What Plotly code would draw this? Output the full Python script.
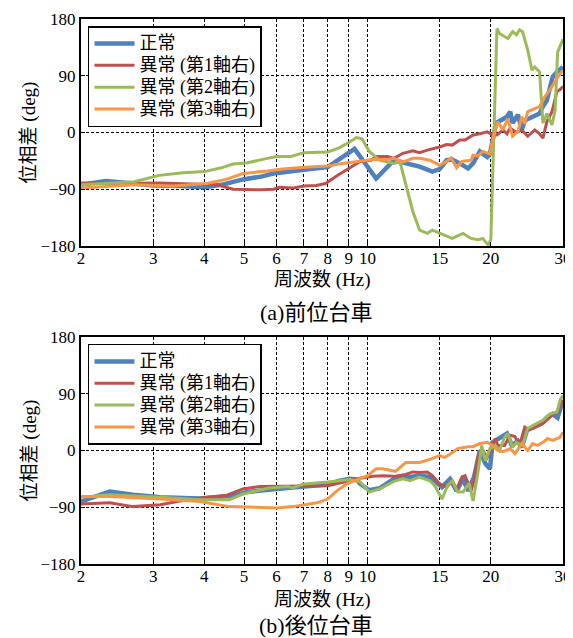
import plotly.graph_objects as go
import math

# ---------------- data: (a) 前位台車 ----------------
a_normal_f = [2, 2.3, 2.6, 3.0, 3.5, 4.0, 4.4, 5.0, 5.5, 5.9, 7.0, 8.0, 9.3, 10.5, 11.6, 12.4, 13.4, 14.4, 15.0, 15.6, 16.1, 16.8, 17.6, 18.1, 18.8, 19.2, 19.6, 19.9, 20.6, 21.9, 22.3, 22.6, 23.3, 23.8, 24.2, 25.3, 26.3, 26.8, 27.4, 28.3, 29.0, 30]
a_normal_v = [-83, -77, -80, -84, -85, -87, -83, -74, -70, -65, -59, -55, -26, -73, -44, -49, -54, -62, -58, -44, -43, -49, -57, -49, -30, -35, -39, -34, 15, 25, 33, 15, 28, 4, 19, 25, 30, 41, 51, 88, 96, 104]

a_ab1_f = [2, 2.5, 3.1, 3.5, 3.9, 4.3, 4.7, 5.5, 5.9, 6.1, 6.6, 7.0, 7.5, 7.9, 8.5, 9.0, 9.6, 10.2, 10.5, 11.2, 11.6, 12.2, 12.9, 13.4, 14.0, 15.0, 15.6, 16.1, 16.8, 17.3, 18.1, 18.8, 19.6, 20.1, 20.7, 21.4, 21.9, 22.3, 23.1, 23.8, 24.6, 25.6, 26.3, 26.8, 27.4, 28.2, 29.0, 29.5, 30]
a_ab1_v = [-80, -81, -80, -81, -83, -83, -90, -91, -90, -87, -88, -85, -84, -81, -67, -57, -46, -44, -38, -38, -41, -33, -29, -32, -28, -23, -19, -20, -12, -12, -4, -2, 1, -3, -4, 4, -2, 7, 0, 4, -6, 4, -2, -9, 17, 33, 65, 68, 73]

a_ab2_f = [2, 2.7, 3.1, 3.55, 4.0, 4.4, 4.7, 5.1, 5.7, 6.0, 6.5, 7.0, 8.0, 8.55, 9.05, 9.4, 9.7, 10.1, 10.7, 11.6, 12.0, 12.4, 12.9, 13.4, 14.0, 14.4, 15.6, 16.1, 17.1, 17.9, 18.6, 19.1, 19.7, 20.0, 20.7, 21.0, 22.0, 22.6, 23.1, 23.5, 23.9, 24.6, 25.2, 25.6, 26.3, 26.8, 27.4, 28.2, 28.7, 29.1, 30]
a_ab2_v = [-83, -78, -68, -64, -62, -56, -50, -48, -41, -38, -38, -32, -31, -24, -15, -8, -10, -30, -44, -49, -46, -81, -125, -155, -160, -155, -165, -168, -160, -168, -170, -168, -178, -170, 165, 157, 149, 160, 155, 163, 160, 131, 99, 104, 96, 15, 30, 12, 35, 127, 148]

a_ab3_f = [2, 2.7, 3.35, 4.06, 4.54, 4.97, 5.7, 6.2, 7.0, 8.0, 8.7, 9.6, 10.3, 11.2, 11.6, 12.2, 12.9, 13.4, 14.2, 15.0, 15.6, 16.0, 16.5, 17.0, 17.9, 18.1, 18.6, 19.1, 19.9, 20.2, 20.8, 21.4, 22.0, 22.6, 23.3, 23.8, 24.2, 24.6, 25.6, 26.3, 27.1, 27.9, 29.0, 30]
a_ab3_v = [-88, -83, -85, -81, -74, -65, -61, -58, -55, -53, -49, -45, -43, -43, -41, -47, -41, -41, -44, -52, -46, -40, -56, -46, -44, -36, -37, -30, -34, -12, 17, 4, 22, -6, 2, 25, 14, 33, 38, 41, 57, 68, 86, 99]

# ---------------- data: (b) 後位台車 ----------------
b_normal_f = [2, 2.35, 2.68, 3.12, 3.9, 4.7, 5.07, 5.7, 6.0, 7.0, 8.0, 8.55, 9.05, 9.4, 9.6, 10.1, 10.7, 11.6, 12.4, 13.4, 14.2, 14.8, 15.2, 15.9, 16.5, 17.1, 17.6, 18.2, 18.8, 19.4, 19.9, 20.2, 21.0, 21.9, 22.5, 23.3, 23.8, 24.5, 25.3, 26.6, 27.5, 28.3, 29.1, 30]
b_normal_v = [-81, -65, -70, -74, -76, -72, -66, -62, -61, -57, -54, -48, -45, -46, -53, -63, -60, -45, -43, -40, -42, -53, -58, -45, -64, -45, -64, -42, 0, -21, -29, 13, 19, 27, 8, 15, 5, 32, 37, 43, 53, 58, 52, 80]

b_ab1_f = [2, 2.35, 2.68, 3.12, 3.49, 4.06, 4.54, 4.97, 5.47, 6.0, 7.0, 8.0, 9.05, 9.6, 10.3, 10.9, 11.6, 12.4, 12.9, 13.4, 14.0, 14.4, 15.0, 15.6, 16.1, 16.5, 17.0, 17.3, 17.9, 18.2, 18.6, 19.0, 19.6, 19.9, 20.5, 20.8, 21.6, 22.3, 22.9, 23.5, 24.2, 24.9, 25.9, 26.8, 27.9, 29.0, 30]
b_ab1_v = [-85, -83, -89, -86, -80, -74, -71, -61, -57, -57, -57, -56, -48, -44, -41, -40, -41, -38, -34, -35, -34, -40, -53, -58, -48, -62, -42, -40, -64, -48, -11, 3, -11, -3, 19, 8, 8, 24, 22, 8, 37, 33, 38, 43, 53, 61, 80]

b_ab2_f = [2, 2.35, 3.12, 3.9, 4.6, 4.97, 5.7, 6.36, 6.58, 7.0, 8.0, 9.05, 9.6, 10.1, 10.7, 11.6, 12.2, 12.7, 13.4, 14.2, 14.6, 15.2, 15.7, 16.1, 16.6, 17.1, 17.7, 18.1, 18.6, 19.0, 19.4, 19.9, 20.5, 21.0, 21.6, 22.0, 22.6, 23.1, 23.9, 24.6, 25.9, 26.8, 27.9, 29.0, 29.5, 30]
b_ab2_v = [-74, -70, -74, -78, -78, -69, -60, -57, -59, -53, -50, -46, -50, -66, -61, -49, -45, -48, -42, -48, -56, -77, -55, -48, -66, -66, -52, -80, -35, 8, -16, 3, 8, 0, 21, 27, 5, 13, 8, 35, 43, 48, 58, 61, 80, 87]

b_ab3_f = [2, 2.35, 3.12, 3.9, 4.6, 5.7, 6.0, 6.58, 7.0, 7.53, 8.0, 8.42, 8.9, 9.42, 10.0, 10.5, 10.9, 11.7, 12.4, 13.2, 13.4, 14.2, 15.0, 15.4, 15.9, 16.6, 17.6, 18.1, 18.8, 19.6, 20.2, 20.8, 21.4, 22.3, 22.9, 23.8, 24.6, 25.3, 26.0, 26.8, 27.5, 28.3, 29.5, 30]
b_ab3_v = [-73, -73, -77, -81, -89, -90, -91, -89, -86, -83, -77, -64, -53, -47, -40, -29, -29, -33, -19, -19, -19, -14, -8, -11, -6, 3, 6, 6, 11, 13, 8, 0, -2, 3, -5, 11, 0, 11, 8, 13, 19, 16, 21, 29]

series_names = ["正常", "異常 (第1軸右)", "異常 (第2軸右)", "異常 (第3軸右)"]
series_colors = ["#4F81BD", "#C0504D", "#9BBB59", "#F79646"]
series_widths = [4.5, 3, 3, 3]

x_tickvals = [2, 3, 4, 5, 6, 7, 8, 9, 10, 15, 20, 30]
x_ticktext = ["2", "3", "4", "5", "6", "7", "8", "9", "10", "15", "20", "30"]
y_tickvals = [-180, -90, 0, 90, 180]
y_ticktext = ["\u2212180", "\u221290", "0", "90", "180"]

xlabel = "周波数 (Hz)"
ylabel = "位相差 (deg)"
captions = ["(a)前位台車", "(b)後位台車"]

FONT = "Liberation Serif, DejaVu Serif, Noto Sans CJK JP, serif"

fig = go.Figure()

panels = [
    ([a_normal_f, a_ab1_f, a_ab2_f, a_ab3_f], [a_normal_v, a_ab1_v, a_ab2_v, a_ab3_v], "x", "y", "legend"),
    ([b_normal_f, b_ab1_f, b_ab2_f, b_ab3_f], [b_normal_v, b_ab1_v, b_ab2_v, b_ab3_v], "x2", "y2", "legend2"),
]
for fs, vs, xa, ya, lg in panels:
    for i in range(4):
        fig.add_trace(go.Scatter(
            x=fs[i], y=vs[i], mode="lines",
            name='<span style="font-size:18px">' + series_names[i] + '</span>',
            line=dict(color=series_colors[i], width=series_widths[i]),
            xaxis=xa, yaxis=ya, legend=lg, showlegend=True,
        ))

axis_common_x = dict(
    type="log", range=[math.log10(2), math.log10(30)],
    tickvals=x_tickvals, ticktext=x_ticktext,
    showgrid=True, gridcolor="black", gridwidth=1, griddash="3px,2px",
    showline=True, linecolor="black", linewidth=2, mirror=True,
    ticks="inside", ticklen=4, tickcolor="black",
    tickfont=dict(family=FONT, size=17, color="black"),
    ticklabelstandoff=-4, ticklabeloverflow="allow",
    zeroline=False,
)
axis_common_y = dict(
    range=[-180, 180], tickvals=y_tickvals, ticktext=y_ticktext,
    showgrid=True, gridcolor="black", gridwidth=1, griddash="3px,2px",
    showline=True, linecolor="black", linewidth=2, mirror=True,
    ticks="inside", ticklen=4, tickcolor="black",
    tickfont=dict(family=FONT, size=17, color="black"),
    ticklabeloverflow="allow",
    zeroline=False,
)

top_dom = [0.5835, 1.0]
bot_dom = [0.0, 0.4165]

legend_common = dict(
    x=0.0145, xanchor="left", bgcolor="white", bordercolor="black", borderwidth=1.5,
    font=dict(family=FONT, size=14.5, color="black"), tracegroupgap=0,
    itemwidth=40,
)

fig.update_layout(
    width=565, height=630,
    margin=dict(l=73, r=10, t=11, b=74, autoexpand=False),
    paper_bgcolor="white", plot_bgcolor="white",
    font=dict(family=FONT, size=17, color="black"),
    xaxis=dict(axis_common_x, domain=[0, 1], anchor="y"),
    yaxis=dict(axis_common_y, domain=top_dom, anchor="x"),
    xaxis2=dict(axis_common_x, domain=[0, 1], anchor="y2"),
    yaxis2=dict(axis_common_y, domain=bot_dom, anchor="x2"),
    legend=dict(legend_common, y=0.987, yanchor="top"),
    legend2=dict(legend_common, y=0.4037, yanchor="top"),
)

ann = []
# x-axis titles
for yp in [0.522, -0.066]:
    ann.append(dict(text=xlabel, x=0.5, y=yp, xref="paper", yref="paper",
                    showarrow=False, font=dict(family=FONT, size=19, color="black"),
                    xanchor="center", yanchor="middle"))
# y-axis titles
for yp in [(top_dom[0] + top_dom[1]) / 2, (bot_dom[0] + bot_dom[1]) / 2]:
    ann.append(dict(text=ylabel, x=-0.106, y=yp, xref="paper", yref="paper",
                    showarrow=False, textangle=-90, font=dict(family=FONT, size=19, color="black"),
                    xanchor="center", yanchor="middle"))
# captions
for cap, yp in zip(captions, [0.4606, -0.1125]):
    ann.append(dict(text=cap, x=0.487, y=yp, xref="paper", yref="paper",
                    showarrow=False, font=dict(family=FONT, size=22, color="black"),
                    xanchor="center", yanchor="middle"))
fig.update_layout(annotations=ann)

fig.write_html("out.html")
